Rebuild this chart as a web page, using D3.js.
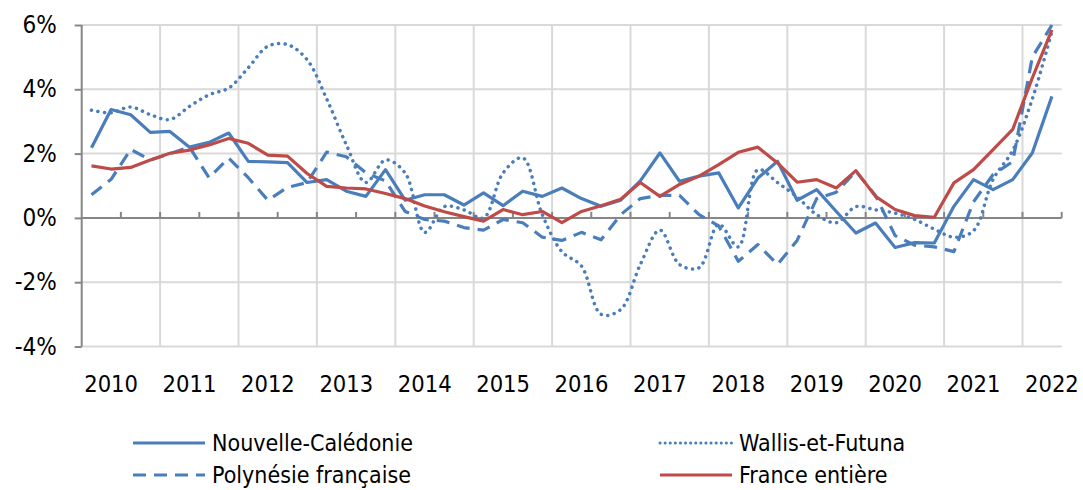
<!DOCTYPE html>
<html>
<head>
<meta charset="utf-8">
<script src="https://cdn.jsdelivr.net/npm/d3@7"></script>
<style>
body { margin: 0; background: #fff; }
text { font-family: "DejaVu Sans Condensed", "DejaVu Sans", sans-serif; fill: #000; }
</style>
</head>
<body>
<div id="chart"></div>
<script>
// categories : trimestres 2010T1 -> 2022T2
var years = [2010, 2011, 2012, 2013, 2014, 2015, 2016, 2017, 2018, 2019, 2020, 2021, 2022];
var quarters = [];
years.forEach(function(yr) {
	['T1', 'T2', 'T3', 'T4'].forEach(function(q) { quarters.push(yr + q); });
});
quarters = quarters.slice(0, 50);

// glissement annuel des prix, en %
var nouvelleCaledonie = [2.18, 3.37, 3.21, 2.66, 2.69, 2.2, 2.35, 2.64, 1.76, 1.74,
	1.72, 1.1, 1.19, 0.83, 0.67, 1.5, 0.55, 0.72, 0.72, 0.4,
	0.78, 0.38, 0.83, 0.67, 0.93, 0.6, 0.36, 0.55, 1.15, 2.02,
	1.14, 1.3, 1.4, 0.31, 1.24, 1.76, 0.55, 0.88, 0.2, -0.47,
	-0.16, -0.92, -0.77, -0.78, 0.36, 1.19, 0.88, 1.19, 2.02, 3.78];
var polynesie = [0.72, 1.2, 2.13, 1.8, 2.0, 2.2, 1.25, 1.86, 1.25, 0.55,
	0.95, 1.1, 2.05, 1.9, 1.4, 1.15, 0.2, -0.05, -0.1, -0.3,
	-0.38, -0.05, -0.15, -0.6, -0.7, -0.45, -0.68, 0.1, 0.6, 0.7,
	0.7, 0.1, -0.25, -1.35, -0.83, -1.45, -0.7, 0.6, 0.8, 1.45,
	0.7, -0.55, -0.85, -0.9, -1.05, 0.5, 1.35, 1.75, 5.0, 6.0];
var wallis = [3.35, 3.27, 3.45, 3.21, 3.06, 3.47, 3.83, 4.04, 4.67, 5.34,
	5.39, 4.92, 3.7, 2.28, 1.1, 1.8, 1.4, -0.45, 0.35, 0.25,
	0.0, 1.4, 1.87, 0.1, -1.05, -1.5, -3.0, -2.85, -1.45, -0.38,
	-1.45, -1.55, -0.2, -0.9, 1.5, 1.1, 0.65, 0.1, -0.15, 0.35,
	0.25, 0.15, -0.05, -0.35, -0.6, -0.4, 1.2, 2.1, 3.7, 5.8];
var france = [1.62, 1.52, 1.57, 1.8, 2.01, 2.11, 2.27, 2.47, 2.32, 1.95,
	1.92, 1.38, 0.98, 0.93, 0.9, 0.76, 0.6, 0.37, 0.19, 0.04,
	-0.1, 0.26, 0.1, 0.2, -0.15, 0.2, 0.38, 0.58, 1.1, 0.67,
	1.04, 1.3, 1.66, 2.04, 2.2, 1.71, 1.11, 1.19, 0.93, 1.47,
	0.67, 0.26, 0.07, 0.02, 1.09, 1.5, 2.12, 2.75, 4.35, 5.85];

var yTicks = [-4, -2, 0, 2, 4, 6];

var svgWidth = 1083;
var svgHeight = 490;
var plotLeft = 81.7, plotRight = 1061.7, plotTop = 25, plotBottom = 346.5;

var blue = '#4a7ebb';
var red = '#be4b48';

var svg = d3.select('#chart').append('svg')
	.attr('width', svgWidth)
	.attr('height', svgHeight);

var x = d3.scaleBand().domain(quarters).range([plotLeft, plotRight]);
var y = d3.scaleLinear().domain([-4, 6]).range([plotBottom, plotTop]);
var cx = function(i) { return x(quarters[i]) + x.bandwidth() / 2; };

// grille horizontale
svg.append('g').selectAll('line')
	.data(yTicks.filter(function(d) { return d != 0; }))
	.enter().append('line')
	.attr('x1', plotLeft).attr('x2', plotRight)
	.attr('y1', d => y(d)).attr('y2', d => y(d))
	.attr('stroke', '#d9d9d9').attr('stroke-width', 2);

// grille verticale, une ligne par annee
svg.append('g').selectAll('line')
	.data(years.slice(1))
	.enter().append('line')
	.attr('x1', d => x(d + 'T1')).attr('x2', d => x(d + 'T1'))
	.attr('y1', plotTop).attr('y2', plotBottom)
	.attr('stroke', '#d9d9d9').attr('stroke-width', 2);

// axe Y
var leftAxis = d3.axisLeft(y).tickValues(yTicks).tickSize(7).tickPadding(18)
	.tickFormat(d => d + '%');
var yAxis = svg.append('g')
	.attr('transform', `translate(${plotLeft}, 0)`)
	.call(leftAxis);
yAxis.select('.domain').attr('stroke', '#868686').attr('stroke-width', 2).attr('d', `M0,${plotTop}V${plotBottom}`);
yAxis.selectAll('.tick line').attr('stroke', '#868686').attr('stroke-width', 2);
yAxis.selectAll('.tick text').attr('font-size', 24).attr('font-family', null);

// axe X sur la ligne 0 %
var zeroY = y(0);
svg.append('line')
	.attr('x1', plotLeft).attr('x2', plotRight)
	.attr('y1', zeroY).attr('y2', zeroY)
	.attr('stroke', '#868686').attr('stroke-width', 2);
var tickIdx = d3.range(2, quarters.length + 1, 2);
svg.append('g').selectAll('line')
	.data(tickIdx)
	.enter().append('line')
	.attr('x1', d => d < quarters.length ? x(quarters[d]) : plotRight)
	.attr('x2', d => d < quarters.length ? x(quarters[d]) : plotRight)
	.attr('y1', zeroY).attr('y2', zeroY - 6)
	.attr('stroke', '#868686').attr('stroke-width', 2);

// etiquettes des annees
svg.append('g').selectAll('text')
	.data(years)
	.enter().append('text')
	.attr('x', d => x(d + 'T2') + x.bandwidth() / 2)
	.attr('y', 392)
	.attr('text-anchor', 'middle')
	.attr('font-size', 23.5)
	.text(d => d);

// courbes
var series = [
	{name: 'Nouvelle-Calédonie', values: nouvelleCaledonie, color: blue, dash: null, curve: d3.curveLinear},
	{name: 'Wallis-et-Futuna', values: wallis, color: blue, dash: '0.1,6.5', curve: d3.curveCatmullRom},
	{name: 'Polynésie française', values: polynesie, color: blue, dash: '13,8', curve: d3.curveLinear},
	{name: 'France entière', values: france, color: red, dash: null, curve: d3.curveLinear}
];

series.forEach(function(s) {
	var line = d3.line()
		.x((d, i) => cx(i))
		.y(d => y(d))
		.curve(s.curve);
	svg.append('path')
		.datum(s.values)
		.attr('d', line)
		.attr('fill', 'none')
		.attr('stroke', s.color)
		.attr('stroke-width', s.dash == '0.1,6.5' ? 3.5 : 3.2)
		.attr('stroke-linecap', s.dash == '0.1,6.5' ? 'round' : 'butt')
		.attr('stroke-linejoin', 'round')
		.attr('stroke-dasharray', s.dash);
});

// legende
var legendPos = [
	{x: 133, y: 443}, {x: 660, y: 443},
	{x: 133, y: 475}, {x: 660, y: 475}
];
var legend = svg.append('g').selectAll('g')
	.data(series)
	.enter().append('g')
	.attr('transform', (d, i) => `translate(${legendPos[i].x}, ${legendPos[i].y})`);
legend.append('line')
	.attr('x1', 0).attr('x2', 72)
	.attr('stroke', d => d.color)
	.attr('stroke-width', 3)
	.attr('stroke-linecap', d => d.dash == '0.1,6.5' ? 'round' : 'butt')
	.attr('stroke-dasharray', d => d.dash == '0.1,6.5' ? '0.1,5' : d.dash);
legend.append('text')
	.attr('x', 79)
	.attr('y', 8)
	.attr('font-size', 23)
	.text(d => d.name);
</script>
</body>
</html>
